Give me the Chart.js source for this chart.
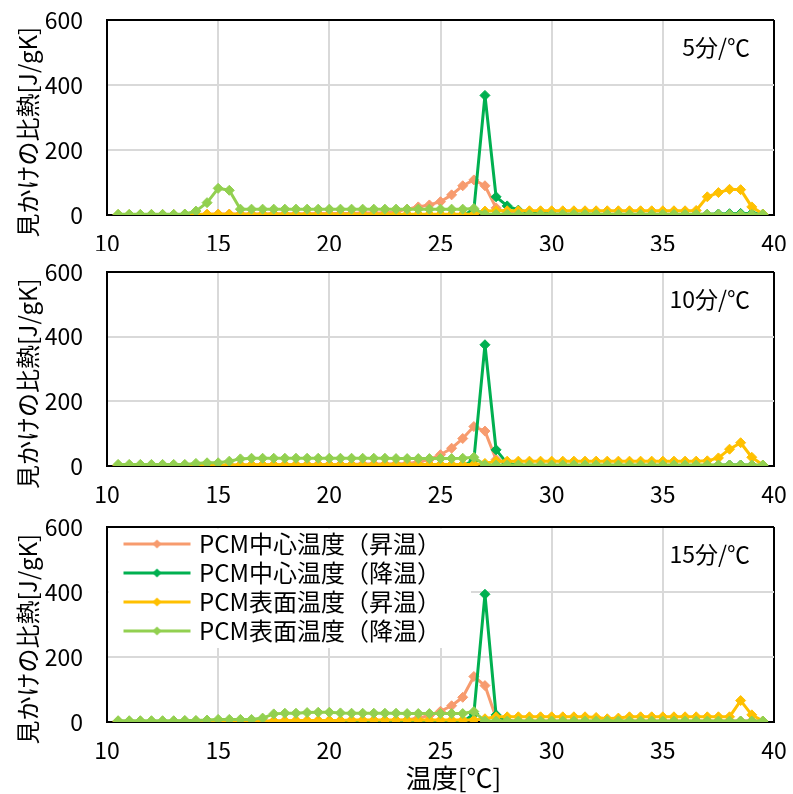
<!DOCTYPE html>
<html>
<head>
<meta charset="utf-8">
<script src="https://cdn.jsdelivr.net/npm/chart.js@4.4.1/dist/chart.umd.min.js"></script>
<style>
html,body{margin:0;padding:0;background:#fff;width:793px;height:794px;overflow:hidden;position:relative;}
canvas{position:absolute;left:0;display:block;}
</style>
</head>
<body>
<canvas id="c1" width="793" height="251" style="top:0px"></canvas>
<canvas id="c2" width="793" height="253" style="top:251px"></canvas>
<canvas id="c3" width="793" height="290" style="top:504px"></canvas>
<script>
// ---------- data ----------
const temps = [10.5,11,11.5,12,12.5,13,13.5,14,14.5,15,
  15.5,16,16.5,17,17.5,18,18.5,19,19.5,20,
  20.5,21,21.5,22,22.5,23,23.5,24,24.5,25,
  25.5,26,26.5,27,27.5,28,28.5,29,29.5,30,
  30.5,31,31.5,32,32.5,33,33.5,34,34.5,35,
  35.5,36,36.5,37,37.5,38,38.5,39,39.5];

const seriesNames = ['PCM中心温度（昇温）','PCM中心温度（降温）','PCM表面温度（昇温）','PCM表面温度（降温）'];
const seriesColors = ['#F79B6E','#00B050','#FFC000','#92D050'];
const rateLabels = ['5分/℃','10分/℃','15分/℃'];
const xTicks = [10,15,20,25,30,35,40];
const yTicks = [0,200,400,600];
const yTitle = '見かけの比熱[J/gK]';
const xTitle = '温度[℃]';

// Panel 1 : 5分/℃
const p1CenterHeat = [0,0,0,0,0,1,1,2,2,3, 3,3,3,3,4,4,4,4,5,5, 5,5,6,6,7,10,18,25,31,41,
  62,90,108,90,22,6,3,2,2,2, 2,2,2,2,2,2,2,2,2,2, 2,2,2,2,2,2,2,2,2];
const p1CenterCool = [0,0,0,0,0,0,0,0,0,0, 0,0,0,0,0,0,0,0,0,0, 0,0,0,0,0,0,0,0,0,0,
  0,0,15,368,56,28,15,8,5,3, 2,2,2,2,1,1,1,1,1,1, 1,1,1,2,3,4,5,5,3];
const p1SurfHeat = [1,1,1,1,1,1,1,1,2,2, 2,2,2,2,2,2,2,2,2,2, 2,2,2,2,2,2,2,2,2,2,
  2,2,3,12,13,13,13,13,13,13, 13,13,13,13,13,13,13,13,13,13, 13,13,14,56,69,79,78,25,3];
const p1SurfCool = [2,2,2,2,2,2,3,12,38,82, 76,18,18,18,18,18,18,18,18,18, 18,18,18,18,18,18,18,18,18,18,
  18,18,20,2,2,2,2,2,2,2, 2,2,2,2,2,2,2,2,2,2, 2,2,2,2,2,2,2,2,2];

// Panel 2 : 10分/℃
const p2CenterHeat = [1,1,1,1,1,1,2,2,2,2, 3,3,3,4,4,4,4,4,5,5, 5,5,6,6,6,7,8,12,20,35,
  55,85,122,108,20,6,3,2,2,2, 2,2,2,2,2,2,2,2,2,2, 2,2,2,2,2,2,2,2,2];
const p2CenterCool = [0,0,0,0,0,0,0,0,0,0, 0,0,0,0,0,0,0,0,0,0, 0,0,0,0,0,0,0,0,0,0,
  0,0,18,375,50,8,3,1,1,1, 1,1,1,1,1,1,1,1,1,1, 1,1,1,1,2,3,3,2,1];
const p2SurfHeat = [1,1,1,1,1,1,1,1,2,2, 3,3,4,4,4,4,4,4,4,4, 4,4,4,4,4,5,5,5,5,5,
  5,5,5,8,15,15,15,15,15,15, 15,15,15,15,15,15,15,15,15,15, 15,15,15,16,25,52,72,27,3];
const p2SurfCool = [5,5,5,5,5,5,5,8,10,10, 15,22,24,24,24,24,24,24,24,24, 24,24,24,24,24,23,23,23,23,23,
  23,24,27,3,3,3,3,3,3,3, 3,3,3,3,3,3,3,3,3,3, 3,3,3,3,3,3,3,3,3];

// Panel 3 : 15分/℃
const p3CenterHeat = [1,1,1,1,1,1,2,2,2,2, 2,2,3,3,3,3,3,3,4,4, 4,4,4,5,5,5,6,12,20,33,
  50,76,140,112,12,5,3,3,3,3, 3,3,3,3,3,3,3,3,3,3, 3,3,3,3,3,3,3,3,3];
const p3CenterCool = [0,0,0,0,0,0,0,0,0,0, 0,0,0,0,0,0,0,0,0,0, 0,0,0,0,0,0,0,0,0,0,
  0,0,25,393,22,3,1,1,1,1, 1,1,1,1,1,1,1,1,1,1, 1,1,1,1,1,1,1,1,1];
const p3SurfHeat = [1,1,1,1,1,1,1,1,1,1, 2,2,2,2,3,4,5,5,5,5, 5,6,6,6,6,6,6,6,6,6,
  6,6,6,10,16,16,16,16,16,16, 16,16,16,14,10,12,16,16,16,16, 16,16,16,16,16,16,66,22,3];
const p3SurfCool = [4,4,4,4,4,4,5,5,6,8, 8,8,8,12,25,27,27,29,30,30, 28,27,27,27,27,27,26,26,26,26,
  26,26,32,3,3,3,3,3,3,3, 3,3,3,3,3,3,3,3,3,3, 3,3,3,3,3,3,3,3,3];

const panels = [
  [p1CenterHeat, p1CenterCool, p1SurfHeat, p1SurfCool],
  [p2CenterHeat, p2CenterCool, p2SurfHeat, p2SurfCool],
  [p3CenterHeat, p3CenterCool, p3SurfHeat, p3SurfCool]
];

// ---------- styling ----------
const FONT = '"Noto Sans CJK JP","Noto Sans",sans-serif';
Chart.defaults.font.family = FONT;
Chart.defaults.color = '#000';
const CLEAR = 'rgba(0,0,0,0)';

function legendIcon(color){
  const c = document.createElement('canvas');
  c.width = 100; c.height = 12;
  const g = c.getContext('2d');
  g.strokeStyle = color; g.lineWidth = 3;
  g.beginPath(); g.moveTo(24,6); g.lineTo(91,6); g.stroke();
  g.fillStyle = color;
  g.beginPath(); g.moveTo(57.5,1.5); g.lineTo(62,6); g.lineTo(57.5,10.5); g.lineTo(53,6); g.closePath(); g.fill();
  return c;
}
const legendIcons = seriesColors.map(legendIcon);

const rateLabelPlugin = {
  id: 'rateLabel',
  afterDatasetsDraw(chart, args, opts){
    const {ctx, chartArea} = chart;
    ctx.save();
    ctx.font = '23px ' + FONT;
    ctx.fillStyle = '#000';
    ctx.textAlign = 'right';
    ctx.textBaseline = 'middle';
    ctx.fillText(opts.text, chartArea.right - 24, chartArea.top + 27);
    ctx.restore();
  }
};

const legendBgPlugin = {
  id: 'legendBg',
  afterLayout(chart){
    const lg = chart.legend;
    if (!lg || !lg.options.display) return;
    const d = chart.chartArea.top - lg.top;
    lg.top += d; lg.bottom += d;
    (lg.legendHitBoxes || []).forEach(h => { h.top += d; });
  },
  beforeDatasetsDraw(chart){
    const lg = chart.legend;
    if (!lg || !lg.options.display || !lg.legendHitBoxes || !lg.legendHitBoxes.length) return;
    const {ctx, chartArea} = chart;
    let r = 0, b = 0;
    lg.legendHitBoxes.forEach(h => { r = Math.max(r, h.left + h.width); b = Math.max(b, h.top + h.height); });
    ctx.save();
    ctx.fillStyle = '#fff';
    ctx.fillRect(chartArea.left + 1.5, chartArea.top + 1.5, r + 30 - chartArea.left - 1.5, b + 5 - chartArea.top - 1.5);
    ctx.restore();
    lg.draw();
  }
};

function makePanel(canvasId, data, rateText, cfg){
  const datasets = seriesNames.map((name, k) => ({
    label: name,
    data: temps.map((t, i) => ({x: t, y: data[k][i]})),
    borderColor: seriesColors[k],
    backgroundColor: seriesColors[k],
    pointBackgroundColor: seriesColors[k],
    pointBorderColor: seriesColors[k],
    borderWidth: 3,
    borderJoinStyle: 'round',
    pointStyle: 'rectRot',
    pointRadius: 5,
    pointBorderWidth: 1,
    tension: 0,
    order: 4 - k
  }));
  return new Chart(document.getElementById(canvasId), {
    type: 'line',
    data: {datasets},
    plugins: cfg.legend ? [rateLabelPlugin, legendBgPlugin] : [rateLabelPlugin],
    options: {
      responsive: false,
      animation: false,
      devicePixelRatio: 1,
      layout: {padding: {top: cfg.padTop, right: 19, bottom: 0, left: 0}},
      scales: {
        x: {
          type: 'linear', min: 10, max: 40,
          afterBuildTicks: s => { s.ticks = xTicks.map(v => ({value: v})); },
          afterFit: s => { s.height = cfg.xHeight; },
          grid: {color: c => (c.tick && c.tick.value === 40) ? '#000' : '#D9D9D9', lineWidth: 2,
                 drawTicks: true, tickLength: 14, tickColor: CLEAR},
          border: {color: '#000', width: 2},
          ticks: {padding: 0, color: '#000', font: {size: 23}, maxRotation: 0, autoSkip: false},
          title: {display: !!cfg.xTitle, text: '　' + xTitle, color: '#000', font: {size: 26}, padding: {top: 0, bottom: 0}}
        },
        y: {
          min: 0, max: 600,
          afterBuildTicks: s => { s.ticks = yTicks.map(v => ({value: v})); },
          afterFit: s => { s.width = 107; },
          grid: {color: c => (c.tick && c.tick.value === 600) ? '#000' : '#D9D9D9', lineWidth: 2,
                 drawTicks: true, tickLength: 24, tickColor: CLEAR},
          border: {color: '#000', width: 2},
          ticks: {padding: 0, color: '#000', font: {size: 23}},
          title: {display: true, text: yTitle + '　 ', color: '#000', font: {size: 24}, padding: {top: 13, bottom: 0}}
        }
      },
      plugins: {
        legend: {
          display: !!cfg.legend,
          position: 'chartArea',
          align: 'start',
          labels: {
            usePointStyle: true,
            pointStyleWidth: 75,
            boxHeight: 23,
            padding: 5,
            color: '#000',
            font: {size: 24},
            sort: (a, b) => a.datasetIndex - b.datasetIndex,
            generateLabels(chart){
              const items = Chart.defaults.plugins.legend.labels.generateLabels(chart);
              items.forEach(it => { it.pointStyle = legendIcons[it.datasetIndex]; it.fontColor = '#000'; });
              return items;
            }
          }
        },
        tooltip: {enabled: false},
        rateLabel: {text: rateText}
      }
    }
  });
}

makePanel('c1', panels[0], rateLabels[0], {padTop: 20, xHeight: 36});
makePanel('c2', panels[1], rateLabels[1], {padTop: 21, xHeight: 38});
makePanel('c3', panels[2], rateLabels[2], {padTop: 23, xHeight: 72, xTitle: true, legend: true});
</script>
</body>
</html>
